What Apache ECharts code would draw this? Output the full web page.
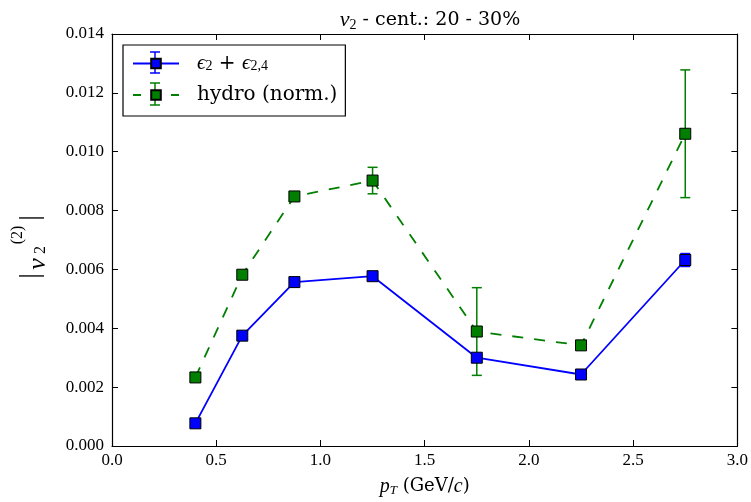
<!DOCTYPE html>
<html><head><meta charset="utf-8">
<script src="https://cdn.jsdelivr.net/npm/echarts@6/dist/echarts.min.js"></script>
<style>html,body{margin:0;padding:0;background:#fff}#c{width:751px;height:502px}</style>
</head><body><div id="c"></div>
<script>
const pT = [0.4, 0.625, 0.875, 1.25, 1.75, 2.25, 2.75];
const epsY = [0.00077, 0.00375, 0.00557, 0.00577, 0.00300, 0.00243, 0.00632];
const epsErr = [0.00008, 0.0001, 0.0001, 0.0001, 0.0001, 0.00008, 0.00022];
const hydroY = [0.00233, 0.00582, 0.00848, 0.00902, 0.00389, 0.00342, 0.01061];
const hydroErr = [0.00008, 0.0001, 0.0001, 0.00045, 0.00149, 0.00008, 0.00217];
const xTicks = ['0.0','0.5','1.0','1.5','2.0','2.5','3.0'];
const yTicks = ['0.000','0.002','0.004','0.006','0.008','0.010','0.012','0.014'];

const TXT = 'DejaVu Serif';
const MATH = 'Liberation Serif';
const BLUE = '#0000ff', GREEN = '#007f00';

function pairs(xs, ys) { return xs.map((x, i) => [x, ys[i]]); }
function errData(xs, ys, es) { return xs.map((x, i) => [x, ys[i] - es[i], ys[i] + es[i]]); }
function errRender(color) {
  return function (params, api) {
    const lo = api.coord([api.value(0), api.value(1)]);
    const hi = api.coord([api.value(0), api.value(2)]);
    const cw = 5;
    const st = { stroke: color, lineWidth: 1.5 };
    return { type: 'group', children: [
      { type: 'line', shape: { x1: lo[0], y1: lo[1], x2: hi[0], y2: hi[1] }, style: st },
      { type: 'line', shape: { x1: lo[0] - cw, y1: lo[1], x2: lo[0] + cw, y2: lo[1] }, style: st },
      { type: 'line', shape: { x1: hi[0] - cw, y1: hi[1], x2: hi[0] + cw, y2: hi[1] }, style: st }
    ]};
  };
}

function axisCommon() {
  return {
    axisLine: { show: true, onZero: false, lineStyle: { color: '#000', width: 1.2 } },
    axisTick: { show: true, inside: true, length: 6, lineStyle: { color: '#000', width: 1 } },
    splitLine: { show: false }
  };
}

function legendErr(x, y1, y2, color) {
  const st = { stroke: color, lineWidth: 1.5 };
  return [
    { type: 'line', z: 1, shape: { x1: x, y1: y1, x2: x, y2: y2 }, style: st },
    { type: 'line', z: 1, shape: { x1: x - 5, y1: y1, x2: x + 5, y2: y1 }, style: st },
    { type: 'line', z: 1, shape: { x1: x - 5, y1: y2, x2: x + 5, y2: y2 }, style: st }
  ];
}

function lbl(x, y, text, size, italic) {
  return { type: 'text', x: x, y: y, style: { text: text, fontFamily: MATH, fontSize: size,
    fontStyle: italic ? 'italic' : 'normal', fill: '#000', align: 'center', verticalAlign: 'middle' } };
}

const chart = echarts.init(document.getElementById('c'));
chart.setOption({
  animation: false,
  backgroundColor: '#fff',
  title: {
    text: '{i|v}{sub|2}{t| - cent.: 20 - 30%}',
    left: 425, top: 4, textAlign: 'center',
    textStyle: { fontFamily: TXT, fontSize: 19, fontWeight: 'normal', color: '#000',
      rich: { t: { fontFamily: TXT, fontSize: 19 },
              i: { fontFamily: MATH, fontStyle: 'italic', fontSize: 22 },
              sub: { fontFamily: MATH, fontSize: 14, verticalAlign: 'bottom', padding: [9, 0, 0, 0] } } }
  },
  grid: { left: 112, right: 13, top: 34, bottom: 50 },
  legend: {
    orient: 'vertical', left: 123, top: 45,
    borderColor: '#000', borderWidth: 1.2, borderRadius: 0,
    padding: [8, 8, 11, 9], itemGap: 11, itemWidth: 46, itemHeight: 12,
    data: [{ name: 'eps' }, { name: 'hydro', lineStyle: { type: [8, 30] } }],
    formatter: function (n) {
      return n === 'eps' ? '{i|ϵ}{sub|2}{t| + }{i|ϵ}{sub|2,4}' : '{t|hydro (norm.)}';
    },
    textStyle: { fontFamily: TXT, fontSize: 20, lineHeight: 20, color: '#000', padding: [0, 0, 0, 13],
      rich: { t: { fontFamily: TXT, fontSize: 20 },
              i: { fontFamily: MATH, fontStyle: 'italic', fontSize: 21 },
              sub: { fontFamily: MATH, fontSize: 14, verticalAlign: 'bottom', padding: [9, 0, 0, 0] } } }
  },
  graphic: [
    ...legendErr(155, 52, 73, BLUE),
    ...legendErr(155, 83, 105, GREEN),
    { type: 'group', x: 46, y: 247, rotation: Math.PI / 2, children: [
      lbl(-29, -15, '|', 28, false),
      lbl(-17, -8, 'v', 26, true),
      lbl(-3, -5, '2', 16, false),
      lbl(12, -28, '(2)', 16, false),
      lbl(29, -15, '|', 28, false)
    ]}
  ],
  xAxis: [
    Object.assign(axisCommon(), {
      type: 'value', min: 0, max: 3, interval: 0.5, position: 'bottom',
      axisLabel: { fontFamily: MATH, fontSize: 17, color: '#000', margin: 6,
        formatter: v => xTicks[Math.round(v / 0.5)] },
      name: '{i|p}{sub|T}{t| (GeV/}{i|c}{t|)}', nameLocation: 'middle', nameGap: 30,
      nameTextStyle: { fontFamily: TXT, fontSize: 18, color: '#000',
        rich: { t: { fontFamily: TXT, fontSize: 18 },
                i: { fontFamily: MATH, fontStyle: 'italic', fontSize: 20 },
                sub: { fontFamily: MATH, fontStyle: 'italic', fontSize: 13, verticalAlign: 'bottom', padding: [8, 0, 0, 0] } } }
    }),
    Object.assign(axisCommon(), {
      type: 'value', min: 0, max: 3, interval: 0.5, position: 'top',
      axisLabel: { show: false }
    })
  ],
  yAxis: [
    Object.assign(axisCommon(), {
      type: 'value', min: 0, max: 0.014, interval: 0.002, position: 'left',
      axisLabel: { fontFamily: MATH, fontSize: 17, color: '#000', margin: 8,
        formatter: v => yTicks[Math.round(v / 0.002)] }
    }),
    Object.assign(axisCommon(), {
      type: 'value', min: 0, max: 0.014, interval: 0.002, position: 'right',
      axisLabel: { show: false }
    })
  ],
  series: [
    { name: 'epsErr', type: 'custom', renderItem: errRender(BLUE), data: errData(pT, epsY, epsErr),
      encode: { x: 0, y: [1, 2] }, z: 1, silent: true },
    { name: 'hydroErr', type: 'custom', renderItem: errRender(GREEN), data: errData(pT, hydroY, hydroErr),
      encode: { x: 0, y: [1, 2] }, z: 1, silent: true },
    { name: 'eps', type: 'line', data: pairs(pT, epsY), symbol: 'rect', symbolSize: 11,
      lineStyle: { color: BLUE, width: 1.8 },
      itemStyle: { color: BLUE, borderColor: '#000', borderWidth: 1 }, z: 3 },
    { name: 'hydro', type: 'line', data: pairs(pT, hydroY), symbol: 'rect', symbolSize: 11,
      lineStyle: { color: GREEN, width: 1.8, type: [11, 11] },
      itemStyle: { color: GREEN, borderColor: '#000', borderWidth: 1 }, z: 2 }
  ]
});
</script></body></html>
